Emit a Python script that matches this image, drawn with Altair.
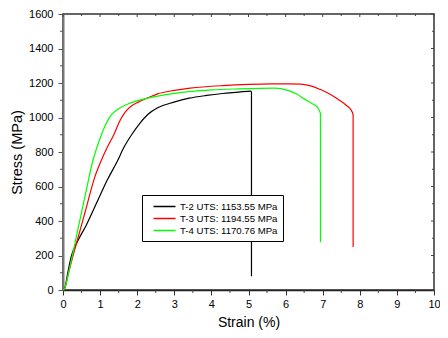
import altair as alt
import pandas as pd

# T-2 (black)
t2_strain = [0.0, 0.05, 0.12, 0.23, 0.4, 0.62, 0.97, 1.2, 1.46, 1.65, 1.85, 2.05, 2.3, 2.55, 2.99, 3.4, 3.87, 4.3, 4.74, 5.05, 5.08, 5.08]
t2_stress = [0, 12, 90, 200, 285, 373, 535, 640, 745, 830, 900, 960, 1020, 1056, 1089, 1112, 1128, 1139, 1147, 1153, 1148, 80]
# T-3 (red)
t3_strain = [0.0, 0.05, 0.15, 0.36, 0.6, 0.85, 1.02, 1.2, 1.37, 1.52, 1.68, 1.85, 2.03, 2.3, 2.55, 3.0, 3.43, 4.31, 5.0, 5.62, 6.1, 6.41, 6.7, 6.94, 7.2, 7.46, 7.65, 7.77, 7.82, 7.82]
t3_stress = [0, 12, 100, 268, 455, 650, 745, 830, 900, 975, 1032, 1068, 1089, 1115, 1137, 1157, 1170, 1185, 1192, 1195, 1195, 1193, 1182, 1162, 1135, 1099, 1068, 1042, 1015, 250]
# T-4 (green)
t4_strain = [0.0, 0.05, 0.15, 0.4, 0.6, 0.8, 1.0, 1.15, 1.3, 1.5, 1.75, 2.03, 2.55, 3.0, 3.43, 4.0, 4.74, 5.3, 5.71, 6.06, 6.3, 6.5, 6.7, 6.85, 6.94, 6.94]
t4_stress = [0, 12, 100, 350, 550, 745, 880, 960, 1015, 1051, 1078, 1099, 1124, 1140, 1151, 1160, 1166, 1169, 1170, 1157, 1136, 1108, 1082, 1061, 1022, 277]

labels = ["T-2 UTS: 1153.55 MPa", "T-3 UTS: 1194.55 MPa", "T-4 UTS: 1170.76 MPa"]
colors = ["#000000", "#ff0000", "#00ff00"]

x_major = list(range(0, 11))
x_minor = [i + 0.5 for i in range(0, 10)]
y_major = list(range(0, 1601, 200))
y_minor = list(range(100, 1600, 200))

rows = []
for lab, xs, ys in zip(labels, [t2_strain, t3_strain, t4_strain], [t2_stress, t3_stress, t4_stress]):
    for i, (a, b) in enumerate(zip(xs, ys)):
        rows.append({"series": lab, "strain": a, "stress": b, "idx": i})
df = pd.DataFrame(rows)

W, H = 371, 276
xscale = alt.Scale(domain=[0, 10], nice=False, zero=False)
yscale = alt.Scale(domain=[0, 1600], nice=False, zero=False)
font = "Liberation Sans"

lines = alt.Chart(df).mark_line(strokeWidth=1.2, interpolate="monotone").encode(
    x=alt.X("strain:Q", scale=xscale,
            axis=alt.Axis(values=x_major, format="d", labelOverlap=False,
                          title="Strain (%)", grid=False, tickSize=5,
                          tickColor="#333333", domainColor="#222222", domainWidth=1.5,
                          labelFontSize=11, titleFontSize=14, titleFontWeight="normal",
                          labelFont=font, titleFont=font, labelColor="#000",
                          titleColor="#000", labelPadding=3, titlePadding=6,
                          labelFlush=False)),
    y=alt.Y("stress:Q", scale=yscale,
            axis=alt.Axis(values=y_major, format="d", labelOverlap=False,
                          title="Stress (MPa)", grid=False, tickSize=5,
                          tickColor="#555555", domainColor="#777777", domainWidth=2,
                          labelFontSize=11, titleFontSize=14.5, titleFontWeight="normal",
                          labelFont=font, titleFont=font, labelColor="#000",
                          titleColor="#000", labelPadding=5, titlePadding=4,
                          labelFlush=False)),
    color=alt.Color("series:N", scale=alt.Scale(domain=labels, range=colors),
                    legend=alt.Legend(orient="none", legendX=79, legendY=181, title=None,
                                      symbolType="M0,0H4", symbolSize=121,
                                      symbolStrokeWidth=1.5, labelFontSize=9.6,
                                      labelFont=font, labelColor="#000",
                                      strokeColor="#000", padding=5, rowPadding=0,
                                      fillColor="white", labelOffset=20)),
    order="idx:Q",
)

xmin_df = pd.DataFrame({"v": x_minor})
xmaj_df = pd.DataFrame({"v": x_major})
ymin_df = pd.DataFrame({"v": y_minor})
ymaj_df = pd.DataFrame({"v": y_major})

tick_color = "#444444"
bot_minor = alt.Chart(xmin_df).mark_rule(color=tick_color).encode(
    x=alt.X("v:Q", scale=xscale, axis=None), y=alt.value(H), y2=alt.value(H + 3))
top_major = alt.Chart(xmaj_df).mark_rule(color=tick_color).encode(
    x=alt.X("v:Q", scale=xscale, axis=None), y=alt.value(0), y2=alt.value(3))
top_minor = alt.Chart(xmin_df).mark_rule(color=tick_color).encode(
    x=alt.X("v:Q", scale=xscale, axis=None), y=alt.value(0), y2=alt.value(2))
left_minor = alt.Chart(ymin_df).mark_rule(color="#555555").encode(
    y=alt.Y("v:Q", scale=yscale, axis=None), x=alt.value(-3), x2=alt.value(0))
right_major = alt.Chart(ymaj_df).mark_rule(color=tick_color).encode(
    y=alt.Y("v:Q", scale=yscale, axis=None), x=alt.value(W - 3), x2=alt.value(W))
right_minor = alt.Chart(ymin_df).mark_rule(color=tick_color).encode(
    y=alt.Y("v:Q", scale=yscale, axis=None), x=alt.value(W - 2), x2=alt.value(W))

chart = alt.layer(lines, bot_minor, top_major, top_minor, left_minor, right_major, right_minor).resolve_axis(
    x="independent", y="independent"
).properties(
    width=W, height=H,
    autosize=alt.AutoSizeParams(type="none"),
    padding={"left": 55, "top": 6, "right": 6, "bottom": 40},
).configure_view(stroke="#333333", strokeWidth=1.5)

chart.save("out.html", embed_options={"renderer": "svg", "actions": False})
